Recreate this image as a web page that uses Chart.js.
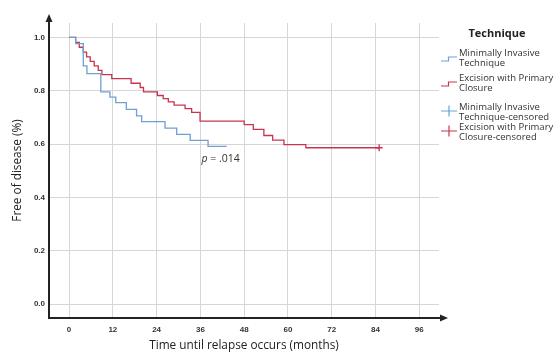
<!DOCTYPE html>
<html>
<head>
<meta charset="utf-8">
<script src="https://cdn.jsdelivr.net/npm/chart.js@4.4.1/dist/chart.umd.min.js"></script>
<style>
html,body{margin:0;padding:0;background:#fff;}
#wrap{position:relative;width:555px;height:353px;}
</style>
</head>
<body>
<div id="wrap"><canvas id="c" width="555" height="353"></canvas></div>
<script>
// ---- data ----
const blueTimes = [0, 1.8, 3.9, 4.9, 8.7, 11.2, 12.8, 15.7, 18.5, 19.9, 26.3, 29.5, 33.2, 38.1, 43.2];
const blueSurv  = [1.0, 0.977, 0.893, 0.864, 0.796, 0.776, 0.755, 0.73, 0.706, 0.684, 0.66, 0.636, 0.614, 0.591, 0.591];
const redTimes = [0, 1.8, 2.8, 3.9, 4.8, 5.8, 6.9, 8.0, 9.0, 11.7, 17.0, 19.5, 20.4, 24.2, 25.8, 27.2, 28.8, 31.8, 33.6, 35.9, 48.0, 50.5, 53.4, 55.8, 58.9, 64.9, 85.0];
const redSurv  = [1.0, 0.981, 0.963, 0.945, 0.927, 0.91, 0.893, 0.876, 0.86, 0.845, 0.828, 0.812, 0.796, 0.782, 0.77, 0.758, 0.746, 0.733, 0.719, 0.686, 0.673, 0.655, 0.632, 0.615, 0.598, 0.586, 0.586];
const redCensorTimes = [85.0];
const redCensorSurv  = [0.586];
const xTickValues = [0, 12, 24, 36, 48, 60, 72, 84, 96];
const yTickValues = [0.0, 0.2, 0.4, 0.6, 0.8, 1.0];
const pValueText = ".014";
const pLabelPos = [36.3, 0.545];
const seriesNames = ["Minimally Invasive Technique", "Excision with Primary Closure"];
const legendTitle = "Technique";
const legendLines = [
  ["Minimally Invasive", "Technique"],
  ["Excision with Primary", "Closure"],
  ["Minimally Invasive", "Technique-censored"],
  ["Excision with Primary", "Closure-censored"]
];
const xTitle = "Time until relapse occurs (months)";
const yTitle = "Free of disease (%)";

const BLUE = '#6e9fd6';
const RED = '#c8344f';
const AX = '#222';

const toPts = (ts, ss) => ts.map((t, i) => ({x: t, y: ss[i]}));

const axesPlugin = {
  id: 'axesArrows',
  afterDraw(chart) {
    const {ctx, chartArea: a} = chart;
    ctx.save();
    ctx.strokeStyle = AX; ctx.fillStyle = AX; ctx.lineWidth = 2;
    ctx.beginPath(); ctx.moveTo(a.left, a.bottom + 1); ctx.lineTo(a.left, a.top - 5); ctx.stroke();
    ctx.beginPath(); ctx.moveTo(a.left, a.top - 9); ctx.lineTo(a.left - 3.5, a.top - 1); ctx.lineTo(a.left + 3.5, a.top - 1); ctx.closePath(); ctx.fill();
    ctx.beginPath(); ctx.moveTo(a.left - 1, a.bottom); ctx.lineTo(a.right + 4, a.bottom); ctx.stroke();
    ctx.beginPath(); ctx.moveTo(a.right + 9, a.bottom); ctx.lineTo(a.right + 1, a.bottom - 3.5); ctx.lineTo(a.right + 1, a.bottom + 3.5); ctx.closePath(); ctx.fill();
    ctx.restore();
  }
};

const annotPlugin = {
  id: 'pText',
  afterDatasetsDraw(chart) {
    const {ctx, scales: {x, y}} = chart;
    const px = x.getPixelForValue(pLabelPos[0]);
    const py = y.getPixelForValue(pLabelPos[1]);
    ctx.save();
    ctx.fillStyle = '#333';
    ctx.textBaseline = 'middle';
    ctx.textAlign = 'left';
    ctx.font = 'italic 10.5px "Open Sans"';
    ctx.fillText('p', px, py);
    const w = ctx.measureText('p').width;
    ctx.font = '10.5px "Open Sans"';
    ctx.fillText(' = ' + pValueText, px + w, py);
    ctx.restore();
  }
};

const legendPlugin = {
  id: 'kmLegend',
  afterDraw(chart) {
    const {ctx} = chart;
    ctx.save();
    ctx.fillStyle = '#222';
    ctx.textBaseline = 'middle';
    ctx.textAlign = 'center';
    ctx.font = 'bold 11px "Open Sans"';
    ctx.fillText(legendTitle, 497, 34);
    ctx.font = '9.5px "Open Sans"';
    ctx.textAlign = 'left';
    ctx.fillStyle = '#333';
    const tops = [53, 78, 107, 127];
    const colors = [BLUE, RED, BLUE, RED];
    tops.forEach((t, i) => {
      legendLines[i].forEach((line, j) => ctx.fillText(line, 459, t + j * 10.5));
      ctx.strokeStyle = colors[i];
      ctx.lineWidth = 1.2;
      ctx.beginPath();
      if (i < 2) {
        const yb = t + 8, yt = t + 4;
        ctx.moveTo(441, yb); ctx.lineTo(448.5, yb); ctx.lineTo(448.5, yt); ctx.lineTo(457, yt);
      } else {
        const cy = t + 4;
        ctx.moveTo(441, cy); ctx.lineTo(457, cy);
        ctx.moveTo(449, cy - 5.5); ctx.lineTo(449, cy + 5.5);
      }
      ctx.stroke();
    });
    ctx.restore();
  }
};

new Chart(document.getElementById('c'), {
  type: 'line',
  data: {
    datasets: [
      {label: seriesNames[0], data: toPts(blueTimes, blueSurv), stepped: 'before', borderColor: BLUE, borderWidth: 1.3, pointRadius: 0, fill: false},
      {label: seriesNames[1], data: toPts(redTimes, redSurv), stepped: 'before', borderColor: RED, borderWidth: 1.3, pointRadius: 0, fill: false},
      {label: seriesNames[1] + '-censored', type: 'scatter', data: toPts(redCensorTimes, redCensorSurv), pointStyle: 'cross', pointRadius: 3.5, borderColor: RED, borderWidth: 1.3, showLine: false}
    ]
  },
  options: {
    responsive: false,
    animation: false,
    events: [],
    layout: {padding: {left: 0, right: 116, top: 23, bottom: 0}},
    plugins: {legend: {display: false}, tooltip: {enabled: false}},
    scales: {
      x: {
        type: 'linear', min: -5.5, max: 101.4,
        afterBuildTicks: s => { s.ticks = xTickValues.map(v => ({value: v})); },
        afterFit: s => { s.height = 35; },
        grid: {color: '#d6d6d6', lineWidth: 1, drawTicks: false},
        border: {display: false},
        ticks: {padding: 7, color: '#333', font: {family: '"Liberation Sans"', size: 8, weight: 'bold'}, maxRotation: 0, callback: v => String(v)},
        title: {display: true, text: xTitle, color: '#222', font: {family: '"Open Sans"', size: 11.8}, padding: {top: 0, bottom: 0}}
      },
      y: {
        type: 'linear', min: -0.0525, max: 1.054,
        afterBuildTicks: s => { s.ticks = yTickValues.map(v => ({value: v})); },
        afterFit: s => { s.width = 49; },
        grid: {color: '#d6d6d6', lineWidth: 1, drawTicks: false},
        border: {display: false},
        ticks: {padding: 4, color: '#333', font: {family: '"Liberation Sans"', size: 8, weight: 'bold'}, callback: v => Number(v).toFixed(1)},
        title: {display: true, text: yTitle, color: '#222', font: {family: '"Open Sans"', size: 11.8}, padding: {top: 11, bottom: 0}}
      }
    }
  },
  plugins: [axesPlugin, annotPlugin, legendPlugin]
});
</script>
</body>
</html>
